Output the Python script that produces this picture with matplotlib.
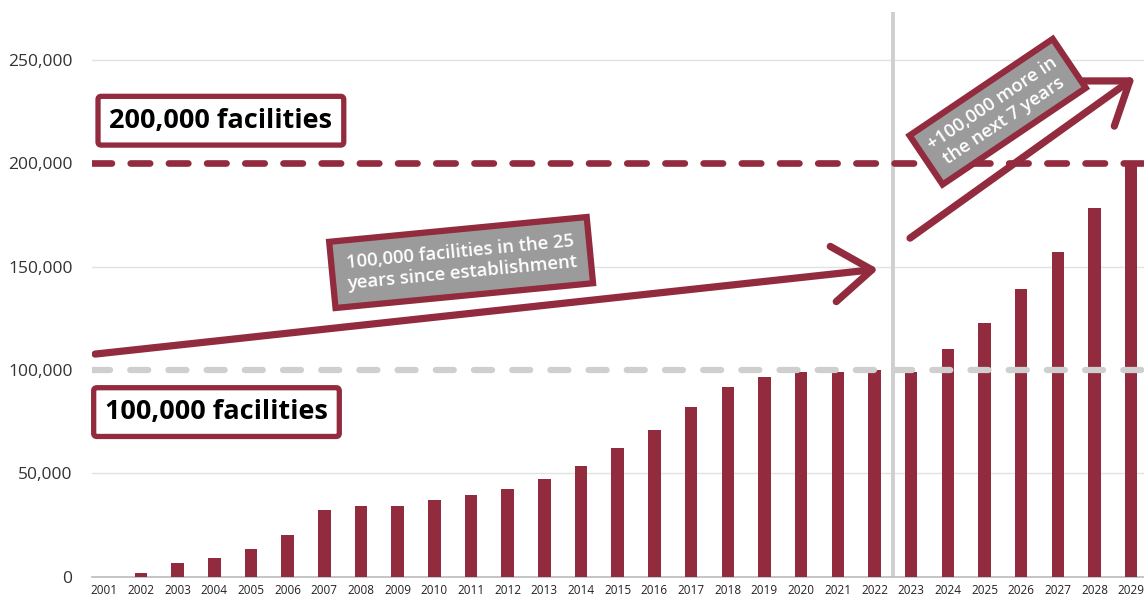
import numpy as np
import matplotlib
matplotlib.use('Agg')
import matplotlib.pyplot as plt
from matplotlib.patches import FancyArrowPatch

plt.rcParams['font.family'] = ['Open Sans', 'DejaVu Sans']
plt.rcParams['lines.scale_dashes'] = False

# data
years = [str(y) for y in range(2001, 2030)]
facilities = [0, 1900, 6500, 9200, 13400, 20200, 32100, 34000, 34000, 36900,
              39400, 42300, 47100, 53700, 62400, 70900, 81900, 91700, 96600, 98800,
              98800, 99800, 99100, 110000, 122500, 139000, 157300, 178400, 200000]
yticks = [0, 50000, 100000, 150000, 200000, 250000]
ytick_labels = ['0', '50,000', '100,000', '150,000', '200,000', '250,000']

RED = '#922b3e'
GREY_BOX = '#9b9b9b'

fig = plt.figure(figsize=(11.44, 5.98), dpi=100)
ax = fig.add_axes([0.0804, 0.0356, 0.9196, 0.9644])

x = np.arange(len(years))
ax.bar(x, facilities, width=0.34, color=RED, zorder=3)

ax.set_xlim(-0.335, 28.35)
ax.set_ylim(0, 279000)

ax.set_yticks(yticks)
ax.set_yticklabels(ytick_labels, fontsize=12.5, color='#333333')
ax.set_xticks(x)
ax.set_xticklabels(years, fontsize=8.5, color='#222222')
ax.tick_params(axis='both', length=0)
ax.tick_params(axis='y', pad=14)
ax.tick_params(axis='x', pad=5)

for s in ['top', 'right', 'left']:
    ax.spines[s].set_visible(False)
ax.spines['bottom'].set_color('#bbbbbb')
ax.spines['bottom'].set_linewidth(1.2)

for v in [50000, 150000, 250000]:
    ax.axhline(v, color='#e2e2e2', lw=1, zorder=1)

# reference lines
ax.axhline(100000, color='#cfcfcf', lw=4.5, ls=(0, (13, 14.5)),
           dash_capstyle='round', zorder=4)
ax.axhline(200000, color=RED, lw=4.8, ls=(0, (14, 13.5)),
           dash_capstyle='round', zorder=4)

# split between actual and projected
ax.plot([21.5, 21.5], [0, 273000], color='#cfcfcf', lw=2.8, zorder=2,
        solid_capstyle='butt')

# boxed labels
white_box = dict(boxstyle='round,pad=0.42,rounding_size=0.12', fc='white',
                 ec=RED, lw=3.8)
ax.text(3.18, 220600, '200,000 facilities', fontsize=19.5, fontweight='bold',
        ha='center', va='center', color='black', bbox=white_box, zorder=6)
ax.text(3.06, 79640, '100,000 facilities', fontsize=19.5, fontweight='bold',
        ha='center', va='center', color='black', bbox=white_box, zorder=6)

ax.text(9.73, 152000, '100,000 facilities in the 25\nyears since establishment',
        fontsize=13.3, fontweight='semibold', color='white', ha='center',
        va='center', rotation=5.5, rotation_mode='anchor', linespacing=1.2,
        bbox=dict(boxstyle='square,pad=0.75', fc=GREY_BOX, ec=RED, lw=4.5),
        zorder=6)
ax.text(24.36, 224950, '+100,000 more in\nthe next 7 years',
        fontsize=13.3, fontweight='semibold', color='white', ha='center',
        va='center', rotation=34, rotation_mode='anchor', linespacing=1.2,
        bbox=dict(boxstyle='square,pad=0.55', fc=GREY_BOX, ec=RED, lw=4.5),
        zorder=6)

# growth arrows
arrow_kw = dict(arrowstyle='->,head_length=0.7,head_width=0.5', mutation_scale=40,
                color=RED, lw=5.2, capstyle='round', joinstyle='round',
                shrinkA=0, shrinkB=0, zorder=5)
ax.add_patch(FancyArrowPatch((-0.25, 107700), (21.1, 148800), **arrow_kw))
ax.add_patch(FancyArrowPatch((21.97, 163800), (28.1, 241600), **arrow_kw))

fig.savefig('out.png', dpi=100)
